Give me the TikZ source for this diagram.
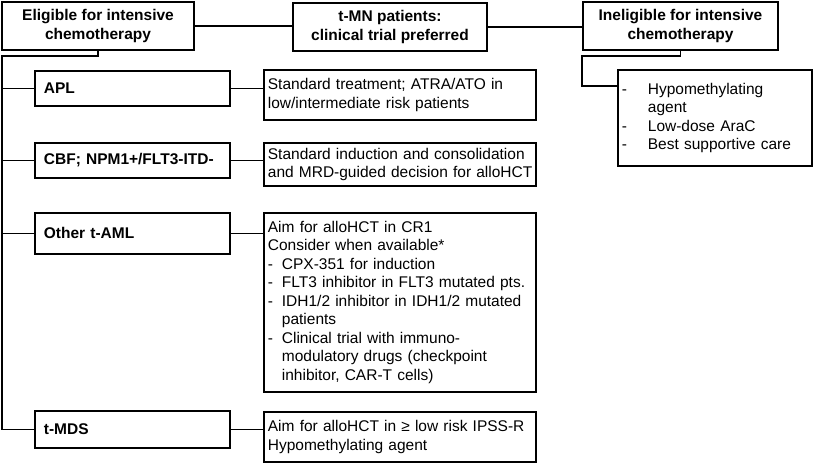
\documentclass[tikz,border=0pt]{standalone}
\usepackage{fontspec}
\setmainfont{Liberation Sans}
\newcommand{\rdash}{\makebox[26pt][l]{-}}
\newcommand{\rind}{\hspace*{26pt}}
\newcommand{\odash}{\makebox[14pt][l]{-}}
\newcommand{\oind}{\hspace*{14pt}}
\begin{document}
\begin{tikzpicture}[x=1pt,y=-1pt,
    box/.style={draw,line width=1.8pt,inner sep=0pt},
    head/.style={box,font=\bfseries\fontsize{15.5}{19}\selectfont,align=center,
      minimum height=48pt},
    kind/.style={box,font=\bfseries\fontsize{15.5}{18}\selectfont,align=left,
      text width=177pt,inner xsep=9pt,anchor=north west},
    info/.style={box,font=\fontsize{15.5}{18.5}\selectfont,align=left,
      text width=264pt,inner xsep=4pt,anchor=north west}]
      \useasboundingbox (0,0) rectangle (815,463);
      \draw
        (98,26) node[head,minimum width=192pt] (elig){Eligible for intensive\\chemotherapy}
        (390,27) node[head,minimum width=194pt] (tmn){t-MN patients:\\clinical trial preferred}
        (680.5,26) node[head,minimum width=195pt] (inel){Ineligible for intensive\\chemotherapy}
        (34,70) node[kind,minimum height=35pt] (apl){APL}
        (34,142) node[kind,minimum height=35pt] (cbf){CBF; NPM1+/FLT3-ITD-}
        (34,212) node[kind,minimum height=41pt] (other){Other t-AML}
        (34,410) node[kind,minimum height=37pt] (tmds){t-MDS}
        (263,69) node[info,minimum height=50pt] (apltxt){Standard treatment; ATRA/ATO in\\
          low/intermediate risk patients}
        (263,142) node[info,minimum height=43pt] (cbftxt){\mbox{Standard induction and consolidation}\\
          \mbox{and MRD-guided decision for alloHCT}}
        (263,212) node[info,minimum height=179pt] (othertxt){Aim for alloHCT in CR1\\
          Consider when available*\\
          \odash CPX-351 for induction\\
          \odash FLT3 inhibitor in FLT3 mutated pts.\\
          \odash IDH1/2 inhibitor in IDH1/2 mutated\\
          \oind patients\\
          \odash Clinical trial with immuno-\\
          \oind modulatory drugs (checkpoint\\
          \oind inhibitor, CAR-T cells)}
        (263,411) node[info,minimum height=50pt] (tmdstxt){\mbox{Aim for alloHCT in ≥ low risk IPSS-R}\\
          Hypomethylating agent}
        (617,69) node[info,text width=186pt,minimum height=96pt] (ineltxt){\rdash Hypomethylating\\
          \rind agent\\
          \rdash Low-dose AraC\\
          \rdash Best supportive care};
      \coordinate (trunk) at (2,56);
      \coordinate (inelbend) at (582,56);
      \coordinate (inelhook) at (582,86);
      \begin{scope}[line width=1.3pt]
        \draw (elig.east) to (elig.east -| tmn.west);
        \draw (tmn.east) to (tmn.east -| inel.west);
        \draw (elig.south) |- (trunk) |- (tmds.west);
        \draw (trunk |- apl.west) to (apl.west);
        \draw (trunk |- cbf.west) to (cbf.west);
        \draw (trunk |- other.west) to (other.west);
        \draw (apl.east) to (apl.east -| apltxt.west);
        \draw (cbf.east) to (cbf.east -| cbftxt.west);
        \draw (other.east) to (other.east -| othertxt.west);
        \draw (tmds.east) to (tmds.east -| tmdstxt.west);
        \draw (inel.south) |- (inelbend) -- (inelhook) -- (inelhook -| ineltxt.west);
      \end{scope}
    \end{tikzpicture}
\end{document}
